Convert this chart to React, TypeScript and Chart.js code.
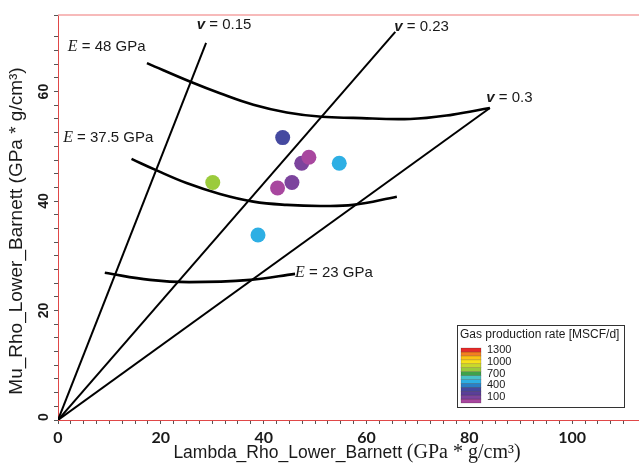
import { useEffect, useRef } from "react";
import { Chart, registerables } from "chart.js";

Chart.register(...registerables);

const WIDTH = 639;
const HEIGHT = 464;

// Wells: lambda-rho, mu-rho and gas production rate (MSCF/d)
const wellLambdaRho = [43.7, 30.1, 42.7, 45.5, 47.4, 48.8, 54.7, 38.9];
const wellMuRho = [51.6, 43.4, 42.4, 43.4, 46.9, 48.0, 46.9, 33.8];
const wellGasRate = [350, 850, 50, 150, 150, 50, 550, 550];

// Constant Poisson's ratio lines, from the origin to these end points
const poissonRatios = ["0.15", "0.23", "0.3"];
const poissonEndLambda = [28.8, 65.6, 84.0];
const poissonEndMu = [68.9, 70.9, 57.0];
const poissonLabelLambda = [27.0, 65.4, 83.3];
const poissonLabelMu = [72.3, 72.0, 59.0];

// Constant Young's modulus contours
const youngModuli = ["48", "37.5", "23"];
const e48Lambda = [17.3, 26.0, 31.5, 38.0, 44.5, 51.3, 57.4, 68.5, 76.8, 84.0];
const e48Mu = [65.2, 61.7, 59.7, 57.6, 56.2, 55.4, 55.2, 55.0, 55.8, 57.0];
const e375Lambda = [14.3, 19.2, 25.0, 31.5, 38.0, 44.5, 51.0, 57.4, 65.9];
const e375Mu = [47.7, 45.6, 43.3, 41.3, 39.9, 39.3, 39.1, 39.3, 40.8];
const e23Lambda = [9.1, 17.9, 25.5, 37.4, 46.1];
const e23Mu = [26.9, 25.6, 25.2, 25.6, 26.7];
const youngLabelLambda = [1.9, 1.0, 46.1];
const youngLabelMu = [68.4, 51.7, 27.1];

// Axis ticks
const xTickLabels = [0, 20, 40, 60, 80, 100];
const yTickLabels = [0, 20, 40, 60];

// Colour scale for gas rate: one band per 100 MSCF/d, low to high
const rateBandSize = 100;
const rateBands = [
  "#a8479f", "#7c449d", "#5a3f98", "#4549a0", "#2b7fc6", "#2eafe4", "#49c2c9",
  "#3fa24a", "#9bcb3c", "#c9d92c", "#f8e11c", "#fbc315", "#f47f20", "#e52b2a",
];
const colorbarTicks = [100, 400, 700, 1000, 1300];

const SANS = "'Liberation Sans', Arial, sans-serif";
const SERIF = "'Liberation Serif', 'Times New Roman', serif";

function rateColor(rate: number) {
  const i = Math.min(rateBands.length - 1, Math.max(0, Math.floor(rate / rateBandSize)));
  return rateBands[i];
}

type Run = { text: string; font: string };

function runsWidth(ctx: CanvasRenderingContext2D, runs: Run[]) {
  let w = 0;
  for (const r of runs) {
    ctx.font = r.font;
    w += ctx.measureText(r.text).width;
  }
  return w;
}

function drawRuns(ctx: CanvasRenderingContext2D, x: number, baseline: number, runs: Run[]) {
  ctx.textAlign = "left";
  ctx.textBaseline = "alphabetic";
  let cx = x;
  for (const r of runs) {
    ctx.font = r.font;
    ctx.fillText(r.text, cx, baseline);
    cx += ctx.measureText(r.text).width;
  }
}

const overlay = {
  id: "overlay",
  afterDraw(chart: any) {
    const { ctx, chartArea: a, scales } = chart;
    const xs = scales.x;
    const ys = scales.y;
    ctx.save();

    // top frame
    ctx.strokeStyle = "#f4a3a3";
    ctx.lineWidth = 1.5;
    ctx.beginPath();
    ctx.moveTo(a.left, a.top);
    ctx.lineTo(a.right, a.top);
    ctx.stroke();

    ctx.fillStyle = "#1a1a1a";

    // rotated y tick labels
    ctx.font = `bold 14px ${SANS}`;
    ctx.textAlign = "center";
    ctx.textBaseline = "middle";
    for (const v of yTickLabels) {
      const py = ys.getPixelForValue(v);
      ctx.save();
      ctx.translate(a.left - 14, py - (v === 0 ? 3 : 0));
      ctx.rotate(-Math.PI / 2);
      ctx.fillText(String(v), 0, 0);
      ctx.restore();
    }

    // y axis title
    ctx.save();
    ctx.translate(17, 231);
    ctx.rotate(-Math.PI / 2);
    ctx.font = `19px ${SANS}`;
    ctx.textAlign = "center";
    ctx.textBaseline = "middle";
    ctx.fillText("Mu_Rho_Lower_Barnett (GPa * g/cm\u00b3)", 0, 0);
    ctx.restore();

    // x axis title
    const xTitle: Run[] = [
      { text: "Lambda_Rho_Lower_Barnett ", font: `17.5px ${SANS}` },
      { text: "(GPa * g/cm\u00b3)", font: `20px ${SERIF}` },
    ];
    const tw = runsWidth(ctx, xTitle);
    drawRuns(ctx, 347 - tw / 2, 458, xTitle);

    // Poisson's ratio labels
    poissonRatios.forEach((p, i) => {
      const px = xs.getPixelForValue(poissonLabelLambda[i]);
      const py = ys.getPixelForValue(poissonLabelMu[i]);
      drawRuns(ctx, px, py + 5, [
        { text: "v", font: `italic bold 15px ${SANS}` },
        { text: " = " + p, font: `15px ${SANS}` },
      ]);
    });

    // Young's modulus labels
    youngModuli.forEach((e, i) => {
      const px = xs.getPixelForValue(youngLabelLambda[i]);
      const py = ys.getPixelForValue(youngLabelMu[i]);
      drawRuns(ctx, px, py + 5, [
        { text: "E", font: `italic 16px ${SERIF}` },
        { text: " = " + e + " GPa", font: `15px ${SANS}` },
      ]);
    });

    // colour bar legend
    const bx = 457, by = 325, bw = 167, bh = 82;
    ctx.fillStyle = "#ffffff";
    ctx.fillRect(bx, by, bw, bh);
    ctx.strokeStyle = "#333";
    ctx.lineWidth = 1;
    ctx.strokeRect(bx + 0.5, by + 0.5, bw, bh);
    ctx.fillStyle = "#1a1a1a";
    ctx.font = `12px ${SANS}`;
    ctx.textAlign = "left";
    ctx.textBaseline = "middle";
    ctx.fillText("Gas production rate [MSCF/d]", bx + 3, by + 10);

    const cbX = 461, cbTop = 348, cbW = 20, cbH = 55;
    const n = rateBands.length;
    const band = cbH / n;
    for (let i = 0; i < n; i++) {
      const y0 = cbTop + cbH - (i + 1) * band;
      ctx.fillStyle = rateBands[i];
      ctx.fillRect(cbX, y0, cbW, band);
      ctx.strokeStyle = "rgba(0,0,0,0.28)";
      ctx.lineWidth = 0.6;
      ctx.strokeRect(cbX, y0, cbW, band);
    }
    ctx.fillStyle = "#1a1a1a";
    ctx.font = `11px ${SANS}`;
    for (const t of colorbarTicks) {
      const ty = cbTop + cbH - (t / (n * rateBandSize)) * cbH - 2;
      ctx.fillText(String(t), cbX + 26, ty);
    }

    ctx.restore();
  },
};

export default function App() {
  const ref = useRef<HTMLCanvasElement | null>(null);

  useEffect(() => {
    if (!ref.current) return;
    const pts = (xs: number[], ys: number[]) => xs.map((x, i) => ({ x, y: ys[i] }));

    const lineStyle = {
      showLine: true,
      pointRadius: 0,
      borderColor: "#000",
      backgroundColor: "#000",
      fill: false,
      order: 1,
    };

    const datasets: any[] = [
      {
        label: "Wells",
        data: pts(wellLambdaRho, wellMuRho),
        pointRadius: 7.5,
        pointBorderWidth: 0,
        pointBackgroundColor: wellGasRate.map(rateColor),
        order: 0,
      },
      ...poissonRatios.map((p, i) => ({
        ...lineStyle,
        label: "v = " + p,
        data: [
          { x: 0, y: 0 },
          { x: poissonEndLambda[i], y: poissonEndMu[i] },
        ],
        borderWidth: 2,
      })),
      ...[
        [e48Lambda, e48Mu],
        [e375Lambda, e375Mu],
        [e23Lambda, e23Mu],
      ].map(([lx, ly], i) => ({
        ...lineStyle,
        label: "E = " + youngModuli[i],
        data: pts(lx, ly),
        borderWidth: 2.6,
        tension: 0.4,
      })),
    ];

    const chart = new Chart(ref.current, {
      type: "scatter",
      data: { datasets },
      options: {
        animation: false,
        responsive: false,
        devicePixelRatio: 1,
        events: [],
        layout: { autoPadding: false, padding: { top: 15, left: 0, right: 0, bottom: 0 } },
        plugins: { legend: { display: false }, tooltip: { enabled: false } },
        scales: {
          x: {
            type: "linear",
            min: 0,
            max: 113,
            afterFit: (s: any) => {
              s.height = 44;
              s.paddingLeft = 0;
              s.paddingRight = 0;
            },
            border: { display: true, color: "#e04848", width: 1, dash: [2, 2] },
            grid: {
              display: true,
              drawOnChartArea: false,
              drawTicks: true,
              tickLength: 4,
              color: "#555",
            },
            ticks: {
              stepSize: 2.5,
              autoSkip: false,
              maxRotation: 0,
              minRotation: 0,
              padding: 4,
              color: "#1a1a1a",
              font: { family: "Lato, 'Liberation Sans', sans-serif", weight: "bold", size: 16 },
              callback: (v: any) => (xTickLabels.includes(Number(v)) ? String(v) : ""),
            },
            title: { display: false },
          },
          y: {
            type: "linear",
            min: 0,
            max: 74,
            afterFit: (s: any) => {
              s.width = 58;
              s.paddingTop = 0;
              s.paddingBottom = 0;
            },
            border: { display: true, color: "#e04848", width: 1, dash: [2, 2] },
            grid: {
              display: true,
              drawOnChartArea: false,
              drawTicks: true,
              tickLength: 4,
              color: "#555",
            },
            ticks: {
              stepSize: 2.5,
              autoSkip: false,
              callback: () => "",
            },
            title: { display: false },
          },
        },
      } as any,
      plugins: [overlay],
    });

    return () => chart.destroy();
  }, []);

  return (
    <div style={{ position: "absolute", left: 0, top: 0, width: WIDTH, height: HEIGHT, background: "#fff" }}>
      <canvas ref={ref} width={WIDTH} height={HEIGHT} style={{ display: "block" }} />
    </div>
  );
}
